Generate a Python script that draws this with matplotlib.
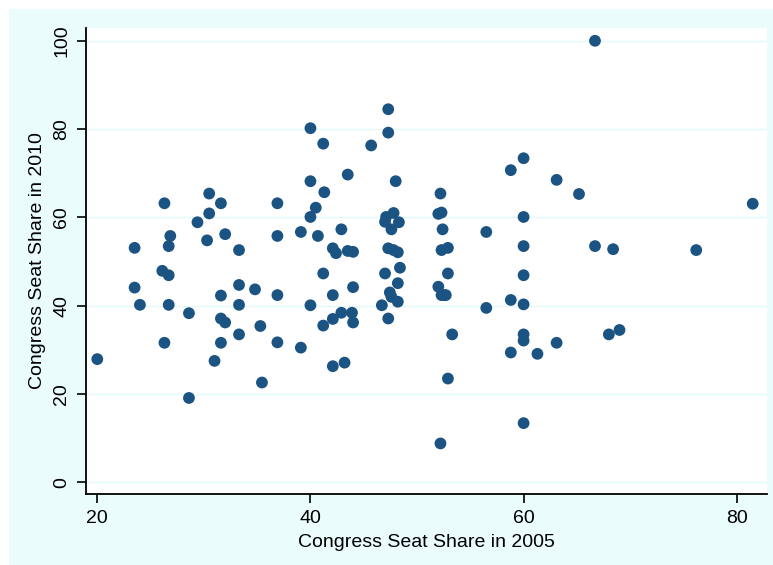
import matplotlib
matplotlib.use("Agg")
import matplotlib.pyplot as plt
from matplotlib.patches import Rectangle

plt.rcParams['font.family'] = ['Liberation Sans', 'DejaVu Sans']

seat_2005 = [
    20.0, 23.5, 23.5, 24.0, 26.1, 26.7, 26.3, 26.7, 26.7, 26.85, 26.3,
    28.6, 28.6, 29.4, 30.3, 30.5, 30.5, 31.0, 31.6, 31.6, 31.6, 31.6, 32.0, 32.0,
    33.3, 33.3, 33.3, 33.3, 34.8, 35.3, 35.45,
    36.9, 36.9, 36.9, 36.9, 39.1, 39.1,
    40.0, 40.0, 40.0, 40.0, 40.5, 40.7,
    41.2, 41.3, 41.2, 41.2, 42.1, 42.1, 42.1, 42.1, 42.4, 42.9, 42.9,
    43.2, 43.5, 43.5, 43.9, 44.0, 44.0, 44.0, 45.7,
    46.7, 47.0, 47.0, 47.1, 47.3, 47.3, 47.3, 47.3, 47.45, 47.6, 47.6, 47.8, 47.8,
    48.0, 48.2, 48.2, 48.2, 48.3, 48.4,
    52.0, 52.0, 52.2, 52.2, 52.3, 52.3, 52.4, 52.3, 52.55, 52.7, 52.9, 52.9, 52.9, 53.3,
    56.5, 56.5, 58.8, 58.8, 58.8,
    60.0, 60.0, 60.0, 60.0, 60.0, 60.0, 60.0, 60.0,
    61.3, 63.1, 63.1, 65.2, 66.7, 66.7, 68.0, 68.4, 69.0, 76.2, 81.5,
]
seat_2010 = [
    27.9, 53.1, 44.1, 40.2, 47.9, 46.9, 63.2, 53.5, 40.2, 55.8, 31.6,
    38.3, 19.1, 58.9, 54.8, 65.4, 60.9, 27.5, 63.2, 42.3, 37.1, 31.6, 56.2, 36.2,
    52.6, 44.7, 40.2, 33.5, 43.7, 35.4, 22.6,
    63.2, 55.8, 42.4, 31.7, 56.7, 30.5,
    80.2, 68.2, 60.1, 40.1, 62.2, 55.8,
    76.7, 65.7, 47.3, 35.5, 53.0, 42.4, 37.0, 26.3, 51.9, 57.3, 38.4,
    27.1, 69.7, 52.4, 38.4, 52.2, 44.2, 36.2, 76.3,
    40.1, 59.0, 47.3, 60.1, 84.5, 79.2, 53.0, 37.1, 43.0, 42.0, 57.3, 61.0, 52.6,
    68.2, 52.1, 45.1, 40.9, 58.9, 48.6,
    60.8, 44.3, 65.4, 8.8, 61.1, 52.6, 57.3, 42.4, 42.4, 42.4, 53.1, 47.3, 23.5, 33.5,
    56.7, 39.5, 70.7, 41.3, 29.4,
    73.4, 60.1, 53.5, 46.9, 40.3, 33.5, 32.1, 13.4,
    29.1, 68.5, 31.6, 65.3, 100.0, 53.5, 33.5, 52.8, 34.5, 52.6, 63.1,
]

x_ticks = [20, 40, 60, 80]
y_ticks = [0, 20, 40, 60, 80, 100]

fig = plt.figure(figsize=(7.73, 5.65), dpi=100, facecolor='white')
bg = Rectangle((9 / 773, 0), 1 - 9 / 773, 1 - 9 / 565,
               transform=fig.transFigure, facecolor='#ebfcfc',
               edgecolor='none', zorder=-10)
fig.add_artist(bg)

ax = fig.add_axes([86 / 773, 71 / 565, 681 / 773, 466 / 565])
ax.set_zorder(1)
ax.set_facecolor('white')
ax.scatter(seat_2005, seat_2010, s=72, color='#1b5383', edgecolors='none', zorder=3)

ax.set_xlim(18.94, 82.84)
ax.set_ylim(-2.65, 102.9)
ax.set_xticks(x_ticks)
ax.set_yticks(y_ticks)
ax.set_xticklabels([str(t) for t in x_ticks], fontsize=14)
ax.set_yticklabels([str(t) for t in y_ticks], fontsize=14, rotation=90, va='center')

for side in ['top', 'right']:
    ax.spines[side].set_visible(False)
for side in ['left', 'bottom']:
    ax.spines[side].set_linewidth(1.3)
    ax.spines[side].set_color('black')

ax.tick_params(axis='both', direction='out', length=6.5, width=1.2, pad=5, colors='black')
ax.yaxis.grid(True, color='#e3f8f8', linewidth=1.0, zorder=0)
ax.set_axisbelow(True)

ax.set_xlabel('Congress Seat Share in 2005', fontsize=14, labelpad=5)
ax.set_ylabel('Congress Seat Share in 2010', fontsize=14, labelpad=5)

fig.savefig('out.png', dpi=100, facecolor=fig.get_facecolor())
